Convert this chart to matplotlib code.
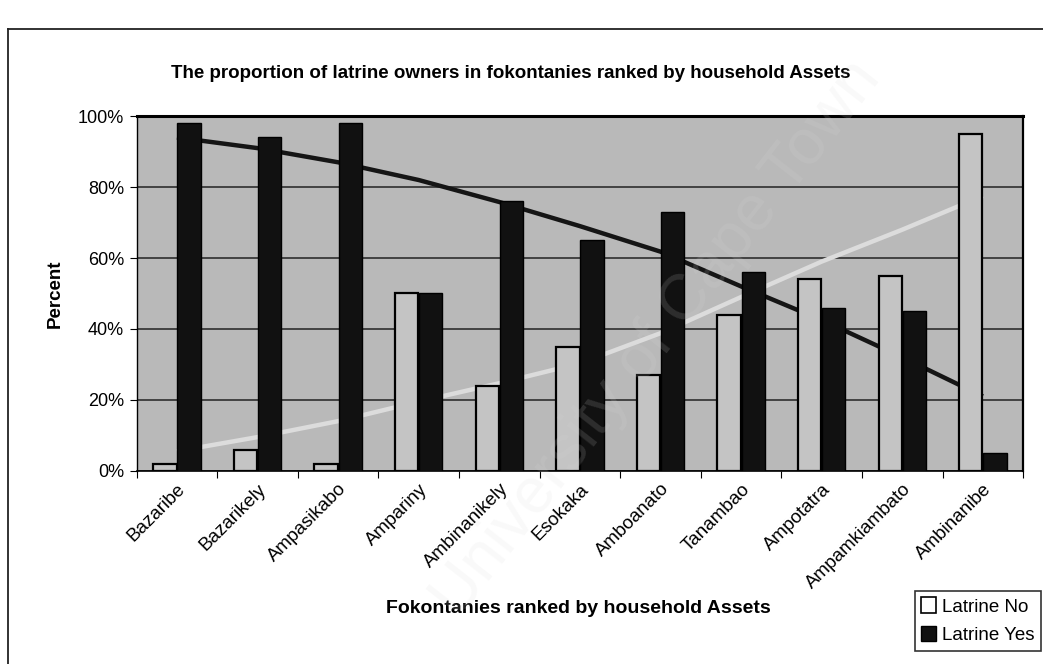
import matplotlib.pyplot as plt
import numpy as np
from matplotlib.patches import Patch
from matplotlib.lines import Line2D

plt.rcParams['font.family'] = ['Liberation Sans', 'DejaVu Sans']

fokontany = ['Bazaribe', 'Bazarikely', 'Ampasikabo', 'Ampariny', 'Ambinanikely',
             'Esokaka', 'Amboanato', 'Tanambao', 'Ampotatra', 'Ampamkiambato',
             'Ambinanibe']
latrine_no = [2, 6, 2, 50, 24, 35, 27, 44, 54, 55, 95]
latrine_yes = [98, 94, 98, 50, 76, 65, 73, 56, 46, 45, 5]
# trend lines
trend_yes = [94, 91, 87, 82, 75.8, 69, 61.8, 52, 42.5, 32, 21]
trend_no = [5.5, 9.5, 14, 19.5, 24.7, 30.3, 38.8, 49, 59, 68, 77.5]

BG = '#b9b9b9'
NO_CLR = '#c4c4c4'

fig = plt.figure(figsize=(10.43, 6.64), dpi=100)
fig.patch.set_facecolor('white')
ax = fig.add_axes([0.131, 0.291, 0.850, 0.534])
ax.set_facecolor(BG)

x = np.arange(len(fokontany))
w = 0.29

ax.plot(x, trend_yes, color='#151515', lw=3.2, zorder=2, solid_capstyle='butt')
ax.plot(x, trend_no, color='#dcdcdc', lw=3.2, zorder=2, solid_capstyle='butt')
ax.bar(x - 0.15, latrine_no, w, color=NO_CLR, edgecolor='black', lw=1.6, zorder=3)
ax.bar(x + 0.15, latrine_yes, w, color='#111111', edgecolor='black', lw=1, zorder=3)

ax.set_xlim(-0.5, len(fokontany) - 0.5)
ax.set_ylim(0, 100)
ax.set_yticks([0, 20, 40, 60, 80, 100])
ax.set_yticklabels(['0%', '20%', '40%', '60%', '80%', '100%'], fontsize=13)
ax.yaxis.grid(True, color='#222222', lw=1.1, zorder=1)
ax.set_axisbelow(True)

ax.set_xticks(np.arange(-0.5, len(fokontany), 1.0))
ax.set_xticklabels([])
ax.set_xticks(x, minor=True)
ax.set_xticklabels(fokontany, minor=True, rotation=45, ha='right',
                   rotation_mode='anchor', fontsize=13.5)
ax.tick_params(axis='x', which='minor', length=0, pad=7)
ax.tick_params(axis='x', which='major', length=5, direction='out', color='black')
ax.tick_params(axis='y', length=5, direction='out', pad=4)

for s in ax.spines.values():
    s.set_color('black')
ax.spines['top'].set_linewidth(2.2)
ax.spines['right'].set_linewidth(1.6)
ax.spines['left'].set_linewidth(1.0)
ax.spines['bottom'].set_linewidth(1.2)

ax.set_ylabel('Percent', fontsize=13.5, fontweight='bold', labelpad=10)
fig.text(0.555, 0.083, 'Fokontanies ranked by household Assets', ha='center',
         va='center', fontsize=14, fontweight='bold')
fig.text(0.49, 0.889, 'The proportion of latrine owners in fokontanies ranked by household Assets',
         ha='center', va='center', fontsize=13.5, fontweight='bold')

# chart frame (top and left edges visible in the scan)
fig.add_artist(Line2D([0.008, 1.0], [0.957, 0.957], color='#222222', lw=1.3))
fig.add_artist(Line2D([0.008, 0.008], [0.0, 0.957], color='#222222', lw=1.3))

handles = [Patch(facecolor='white', edgecolor='black', lw=1.2, label='Latrine No'),
           Patch(facecolor='#111111', edgecolor='black', label='Latrine Yes')]
leg = fig.legend(handles=handles, loc='lower right', bbox_to_anchor=(0.998, 0.02),
                 fontsize=13.5, frameon=True, fancybox=False, handlelength=0.8,
                 handleheight=0.9, handletextpad=0.3, borderpad=0.35,
                 labelspacing=0.55, borderaxespad=0)
leg.get_frame().set_edgecolor('black')
leg.get_frame().set_linewidth(1.2)

# faint scan watermark
fig.text(0.63, 0.49, 'University of Cape Town', rotation=52, ha='center',
         va='center', fontsize=46, color='#d8d8d8', alpha=0.15, zorder=5)

fig.savefig('out.png', dpi=100, facecolor='white')
